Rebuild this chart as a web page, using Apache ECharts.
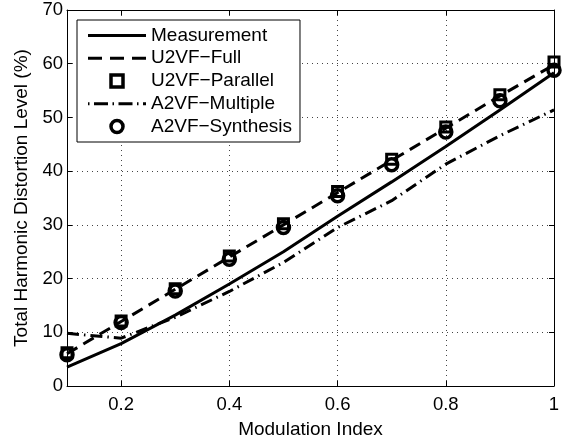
<!DOCTYPE html>
<html>
<head>
<meta charset="utf-8">
<script src="https://cdn.jsdelivr.net/npm/echarts@6/dist/echarts.min.js"></script>
<style>html,body{margin:0;padding:0;background:#fff;}#c{width:564px;height:444px;}</style>
</head>
<body>
<div id="c"></div>
<script>
const modIndex = [0.1, 0.2, 0.3, 0.4, 0.5, 0.6, 0.7, 0.8, 0.9, 1.0];
const measurement = [3.5, 7.9, 13.2, 19.0, 25.0, 31.6, 38.0, 44.6, 51.4, 58.3];
const u2vfFull = [6.0, 12.0, 18.0, 24.0, 30.0, 36.0, 42.0, 48.0, 54.0, 59.8];
const u2vfParallel = [6.2, 12.1, 18.1, 24.2, 30.2, 36.2, 42.2, 48.2, 54.2, 60.3];
const a2vfMultiple = [9.8, 8.9, 12.8, 17.6, 23.0, 29.5, 34.5, 41.3, 46.6, 51.4];
const a2vfSynthesis = [5.8, 11.8, 17.7, 23.6, 29.5, 35.4, 41.2, 47.3, 53.1, 58.8];
const seriesNames = ['Measurement', 'U2VF\u2212Full', 'U2VF\u2212Parallel', 'A2VF\u2212Multiple', 'A2VF\u2212Synthesis'];
const yTicks = [0, 10, 20, 30, 40, 50, 60, 70];

const pair = (ys) => modIndex.map((x, i) => [x, ys[i]]);
const FONT = 'Liberation Sans';

const chart = echarts.init(document.getElementById('c'), null, {renderer: 'canvas'});
const axisCommon = {
  axisLine: {show: true, onZero: false, lineStyle: {color: '#000', width: 1}},
  axisTick: {show: true, inside: true, length: 5, lineStyle: {color: '#000'}},
};
const gridLine = {show: true, lineStyle: {color: '#444', type: [1, 4], width: 1}};
chart.setOption({
  animation: false,
  backgroundColor: '#fff',
  grid: {left: 67, right: 10, top: 10, bottom: 52, show: false},
  legend: {
    left: 77, top: 20, orient: 'vertical',
    backgroundColor: '#fff', borderColor: '#000', borderWidth: 1,
    padding: [6, 8, 6, 11],
    itemWidth: 58, itemHeight: 12, itemGap: 3.75,
    textStyle: {fontFamily: FONT, fontSize: 19, color: '#000', lineHeight: 19},
    data: [
      {name: seriesNames[0], icon: 'path://M0,0h58v3h-58z'},
      {name: seriesNames[1], icon: 'path://M0,0h14v3h-14z M22,0h14v3h-14z M44,0h14v3h-14z'},
      {name: seriesNames[2], icon: 'path://M0,0h10v10h-10z', itemStyle: {color: 'rgba(0,0,0,0)', borderColor: '#000', borderWidth: 3.5}},
      {name: seriesNames[3], icon: 'path://M0,0h1.5v3h-1.5z M6,0h14v3h-14z M24.5,0h1.5v3h-1.5z M30.5,0h14v3h-14z M49,0h1.5v3h-1.5z M55,0h3v3h-3z'},
      {name: seriesNames[4], icon: 'circle', itemStyle: {color: 'rgba(0,0,0,0)', borderColor: '#000', borderWidth: 3.5}}
    ]
  },
  xAxis: [
    Object.assign({}, axisCommon, {
      type: 'value', min: 0.1, max: 1, position: 'bottom',
      name: 'Modulation Index', nameLocation: 'middle', nameGap: 34,
      nameTextStyle: {fontFamily: FONT, fontSize: 19, color: '#000'},
      axisLabel: {fontFamily: FONT, fontSize: 18.5, color: '#000', margin: 9, showMinLabel: false,
        formatter: (v) => String(+v.toFixed(1))},
      splitLine: gridLine
    }),
    Object.assign({}, axisCommon, {
      type: 'value', min: 0.1, max: 1, position: 'top',
      axisLabel: {show: false}, splitLine: {show: false}
    })
  ],
  yAxis: [
    Object.assign({}, axisCommon, {
      type: 'value', min: yTicks[0], max: yTicks[yTicks.length - 1], interval: 10, position: 'left',
      name: 'Total Harmonic Distortion Level (%)', nameLocation: 'middle', nameGap: 35,
      nameTextStyle: {fontFamily: FONT, fontSize: 19, color: '#000'},
      axisLabel: {fontFamily: FONT, fontSize: 18.5, color: '#000', margin: 4},
      splitLine: gridLine
    }),
    Object.assign({}, axisCommon, {
      type: 'value', min: yTicks[0], max: yTicks[yTicks.length - 1], interval: 10, position: 'right',
      axisLabel: {show: false}, splitLine: {show: false}
    })
  ],
  series: [
    {name: seriesNames[0], type: 'line', data: pair(measurement), symbol: 'none',
     itemStyle: {color: '#000'}, lineStyle: {color: '#000', width: 3, type: 'solid'}},
    {name: seriesNames[1], type: 'line', data: pair(u2vfFull), symbol: 'none',
     itemStyle: {color: '#000'}, lineStyle: {color: '#000', width: 3, type: [12, 7]}},
    {name: seriesNames[3], type: 'line', data: pair(a2vfMultiple), symbol: 'none',
     itemStyle: {color: '#000'}, lineStyle: {color: '#000', width: 3, type: [12, 5, 1.5, 5]}},
    {name: seriesNames[2], type: 'scatter', data: pair(u2vfParallel), symbol: 'rect', symbolSize: 10,
     itemStyle: {color: 'rgba(0,0,0,0)', borderColor: '#000', borderWidth: 3, opacity: 1}},
    {name: seriesNames[4], type: 'scatter', data: pair(a2vfSynthesis), symbol: 'circle', symbolSize: 12,
     itemStyle: {color: 'rgba(0,0,0,0)', borderColor: '#000', borderWidth: 3.5, opacity: 1}}
  ]
});
</script>
</body>
</html>
